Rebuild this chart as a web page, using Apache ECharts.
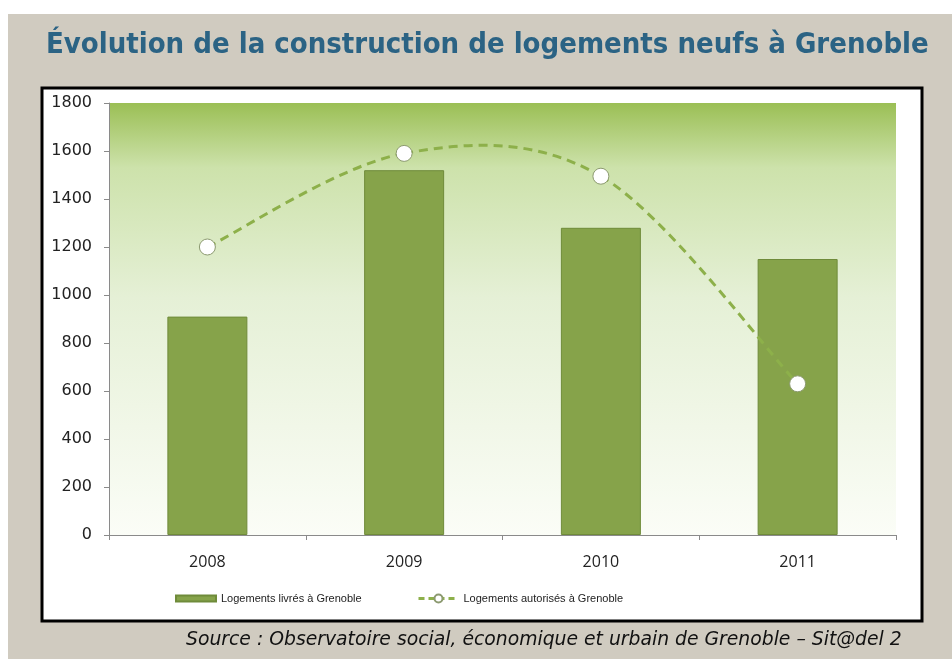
<!DOCTYPE html>
<html>
<head>
<meta charset="utf-8">
<script src="https://cdn.jsdelivr.net/npm/echarts@6/dist/echarts.min.js"></script>
<style>
  html, body { margin: 0; padding: 0; background: #fff; }
  #chart { width: 952px; height: 659px; }
</style>
</head>
<body>
<div id="chart"></div>
<script>
// données
const years = ['2008', '2009', '2010', '2011'];
const livres = [910, 1520, 1280, 1150];
const autorises = [1200, 1590, 1495, 630];
const yTicks = {min: 0, max: 1800, interval: 200};

const chart = echarts.init(document.getElementById('chart'));

const plotBg = new echarts.graphic.LinearGradient(0, 0, 0, 1, [
    {offset: 0, color: '#9bbf55'},
    {offset: 0.15, color: '#cde2ab'},
    {offset: 0.45, color: '#e5f0d6'},
    {offset: 1, color: '#fbfdf7'}
]);

// courbe lissée façon Excel (Catmull-Rom) entre deux points
function renderCurve(params, api) {
    const i = params.dataIndex;
    const n = autorises.length;
    if (i >= n - 1) return null;
    const pt = k => {
        const j = Math.max(0, Math.min(n - 1, k));
        return api.coord([j, autorises[j]]);
    };
    const p0 = pt(i - 1), p1 = pt(i), p2 = pt(i + 1), p3 = pt(i + 2);
    return {
        type: 'bezierCurve',
        shape: {
            x1: p1[0], y1: p1[1], x2: p2[0], y2: p2[1],
            cpx1: p1[0] + (p2[0] - p0[0]) / 6, cpy1: p1[1] + (p2[1] - p0[1]) / 6,
            cpx2: p2[0] - (p3[0] - p1[0]) / 6, cpy2: p2[1] - (p3[1] - p1[1]) / 6
        },
        style: {fill: null, stroke: '#8db04a', lineWidth: 3, lineDash: [9, 6]}
    };
}

const legendFont = {fontFamily: '"Liberation Sans"', fontSize: 11, color: '#222'};

const option = {
    backgroundColor: '#ffffff',
    animation: false,
    graphic: [
        // fond beige
        {type: 'rect', shape: {x: 8, y: 14, width: 944, height: 645}, style: {fill: '#d0cbc0'}, z: -10},
        // cadre blanc du graphique
        {type: 'rect', shape: {x: 42, y: 88, width: 880, height: 533},
            style: {fill: '#ffffff', stroke: '#000000', lineWidth: 3}, z: -9},
        {type: 'text', left: 46, top: 31,
            style: {text: 'Évolution de la construction de logements neufs à Grenoble',
                fill: '#2b6384', font: 'bold 29px "DejaVu Sans Condensed", "DejaVu Sans"'}},
        {type: 'text', left: 186, top: 631,
            style: {text: 'Source : Observatoire social, économique et urbain de Grenoble – Sit@del 2',
                fill: '#111', font: 'italic 18.8px "DejaVu Sans"'}}
    ],
    grid: {left: 109, right: 56, top: 103, bottom: 124, show: true, backgroundColor: plotBg, borderWidth: 0},
    legend: [
        {left: 175, top: 593, padding: 0, itemGap: 4,
            data: [{name: 'Logements livrés à Grenoble', icon: 'rect'}],
            itemWidth: 40, itemHeight: 6, textStyle: legendFont},
        {left: 417, top: 593, padding: 0,
            data: [{name: 'Logements autorisés à Grenoble',
                lineStyle: {color: '#8db04a', width: 3, type: [6, 4], opacity: 1}}],
            itemWidth: 40, itemHeight: 10, textStyle: legendFont}
    ],
    xAxis: {
        type: 'category',
        data: years,
        axisLine: {lineStyle: {color: '#8a8a8a', width: 1}},
        axisTick: {show: true, length: 5, lineStyle: {color: '#8a8a8a'}},
        axisLabel: {color: '#222', fontFamily: '"Open Sans"', fontSize: 16, margin: 19}
    },
    yAxis: {
        type: 'value',
        min: yTicks.min, max: yTicks.max, interval: yTicks.interval,
        axisLine: {show: true, lineStyle: {color: '#8a8a8a', width: 1}},
        axisTick: {show: true, length: 5, lineStyle: {color: '#8a8a8a'}},
        splitLine: {show: false},
        axisLabel: {color: '#222', fontFamily: '"DejaVu Sans"', fontSize: 16, margin: 17,
            formatter: v => String(v)}
    },
    series: [
        {
            name: 'Logements livrés à Grenoble',
            type: 'bar',
            data: livres,
            barWidth: 80,
            itemStyle: {color: '#86a34a', borderColor: '#6f8b3a', borderWidth: 1}
        },
        {
            name: 'courbe',
            type: 'custom',
            data: autorises.map((v, i) => [i, v]),
            renderItem: renderCurve,
            z: 3
        },
        {
            name: 'Logements autorisés à Grenoble',
            type: 'line',
            data: autorises,
            symbol: 'circle',
            symbolSize: 16,
            lineStyle: {opacity: 0},
            itemStyle: {color: '#ffffff', borderColor: '#8c9a70', borderWidth: 1},
            z: 4
        }
    ]
};

chart.setOption(option);
</script>
</body>
</html>
